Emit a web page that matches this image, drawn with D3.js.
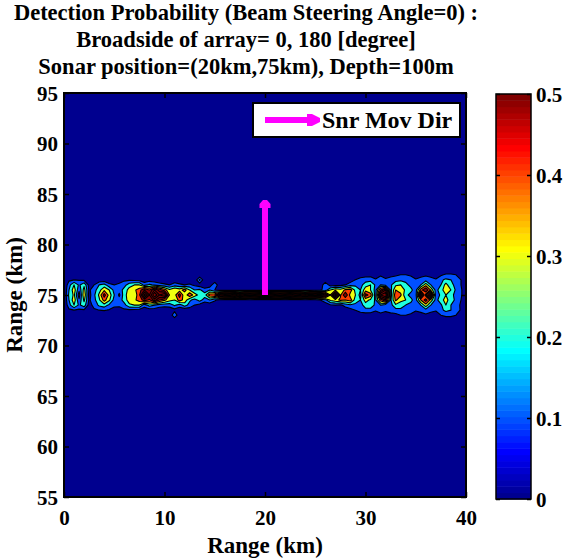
<!DOCTYPE html>
<html><head><meta charset="utf-8">
<script src="https://cdn.jsdelivr.net/npm/d3@7"></script>
<style>
body{margin:0;background:#fff}
text{font-family:"Liberation Serif","Times New Roman",serif;font-weight:bold;fill:#000}
</style>
</head><body>
<svg id="chart" width="566" height="560"></svg>
<script>
// ---------------- DATA ----------------
const titleLines = [
  "Detection Probability (Beam Steering Angle=0) :",
  "Broadside of array= 0, 180 [degree]",
  "Sonar position=(20km,75km), Depth=100m"
];
const xLabel = "Range (km)";
const yLabel = "Range (km)";
const legendLabel = "Snr Mov Dir";
const xTicks = [0, 10, 20, 30, 40];
const yTicks = [55, 60, 65, 70, 75, 80, 85, 90, 95];
const cbTicks = [0, 0.1, 0.2, 0.3, 0.4, 0.5];
const xDomain = [0, 40], yDomain = [55, 95], cDomain = [0, 0.5];
const contourLevels = [0.1, 0.2, 0.3, 0.4, 0.5, 0.6, 0.7, 0.8, 0.9];
const sonarPos = [20, 75];
const moveTip = [20, 84.4];

// detection-probability grid: columns every 0.5 km from 0 to 40 km (81 values per row)
const gridX0 = 0, gridDX = 0.5;
const gridRowsKm = [77.0, 76.5, 76.0, 75.5, 75.0, 74.5, 74.0, 73.5, 73.0];
const pd_770 = [0,0,0,0,0,0,0,0,0,0, 0,0,0,0,0,0,0,0,0,0, 0,0,0,0,0,0,0,0,0,0,
  0,0,0,0,0,0,0,0,0,0, 0,0,0,0,0,0,0,0,0,0, 0,0,0,0,0,0,0,0,0,.04,
  .06,.06,0,.08,0,.06,.08,.1,.1,.08, 0,.06,.08,.06,0,.08,.12,.12,.1,.04, 0];
const pd_765 = [0,.08,.1,.09,.08,.02,.02,.03,.03,.02, .02,.06,.08,.08,.07,.06,.04,.05,.04,.03,
  .02,.02,.03,.02,.02,.01,.02,.22,.02,0, 0,0,0,0,0,0,0,0,0,0, 0,0,0,0,0,0,0,0,0,0,
  0,0,0,0,0,0,.02,.04,.1,.14, .15,.16,.12,.16,.14,.15,.16,.18,.18,.16,
  .12,.14,.16,.14,.12,.18,.22,.2,.18,.1, 0];
const pd_760 = [0,.16,.3,.18,.28,.06,.1,.2,.24,.13, .1,.12,.16,.26,.3,.3,.16,.22,.18,.14,
  .12,.1,.15,.12,.1,.12,.08,.04,.02,.02, .2,0,0,0,0,0,0,0,0,0, 0,0,0,0,0,0,0,0,0,0,
  0,0,.2,.04,.06,.06,.1,.16,.18,.16, .26,.3,.18,.2,.16,.18,.28,.3,.22,.18,
  .14,.2,.36,.2,.14,.2,.34,.22,.18,.1, 0];
const pd_755 = [0,.2,.36,.12,.34,.08,.16,.26,.38,.3, .16,.14,.24,.34,.38,.45,.6,.5,.7,.55,
  .45,.32,.4,.35,.45,.3,.2,.22,.14,.2, .1,.04,.02,.03,.02,.04,.02,.03,.02,.02,
  .03,.02,.02,.04,.02,.03,.05,.02,.04,.03, .05,.08,.14,.3,.38,.34,.42,.45,.26,.2,
  .36,.3,.16,.5,.7,.16,.4,.36,.28,.22, .16,.45,.6,.38,.16,.26,.36,.3,.18,.12, 0];
const pd_750 = [0,.22,.32,.05,.38,.06,.18,.32,.55,.36, .2,.08,.26,.36,.32,.48,.85,.6,.9,.7,
  .8,.4,.35,.55,.32,.48,.35,.26,.25,.45, .5,.8,.9,.85,.95,.8,.9,.85,.9,.95,
  .9,.95,.9,.85,.9,.95,.85,.9,.8,.9, .85,.9,.7,.4,.75,.38,.6,.35,.3,.16,
  .55,.45,.14,.8,.9,.14,.48,.42,.22,.18, .14,.85,.35,.8,.14,.22,.3,.22,.18,.12, 0];
const pd_745 = [0,.2,.36,.12,.32,.08,.17,.28,.44,.32, .16,.14,.25,.35,.38,.44,.55,.48,.65,.5,
  .42,.34,.3,.45,.36,.22,.16,.24,.15,.2, .12,.05,.02,.02,.03,.02,.02,.04,.02,.02,
  .02,.03,.02,.02,.04,.02,.03,.02,.05,.03, .04,.1,.16,.32,.36,.42,.4,.45,.24,.2,
  .34,.28,.18,.45,.6,.18,.42,.32,.3,.22, .16,.4,.55,.36,.16,.26,.34,.24,.18,.1, 0];
const pd_740 = [0,.16,.3,.18,.26,.05,.14,.22,.26,.18, .13,.12,.16,.28,.3,.3,.14,.25,.2,.15,
  .14,.14,.22,.15,.25,.16,.1,.06,.02,.03, .02,0,0,0,0,0,0,0,0,0, 0,0,0,0,0,0,0,0,0,0,
  0,0,.04,.08,.1,.08,.14,.18,.18,.15, .26,.3,.16,.2,.14,.16,.28,.26,.2,.18,
  .14,.2,.36,.2,.14,.18,.3,.2,.16,.08, 0];
const pd_735 = [0,.08,.1,.08,.08,.02,.08,.1,.11,.09, .05,.06,.08,.08,.07,.06,.05,.04,.05,.03,
  .02,.04,.06,.03,.02,.04,.02,0,0,0, .03,0,0,0,0,0,0,0,0,0, 0,0,0,0,0,0,0,0,0,0,
  0,0,0,0,0,0,.03,.06,.1,.15, .16,.14,.12,.15,.14,.16,.16,.17,.18,.15,
  .12,.14,.16,.13,.12,.18,.22,.2,.18,.08, 0];
const pd_730 = [0,0,0,0,0,0,0,0,0,0, 0,0,0,0,0,0,0,0,0,0, 0,0,.2,0,0,0,0,0,0,0,
  0,0,0,0,0,0,0,0,0,0, 0,0,0,0,0,0,0,0,0,0, 0,0,0,0,0,0,0,0,0,.03,
  .05,.06,0,.06,0,.05,.07,.1,.1,.08, 0,.05,.08,.06,0,.1,.14,.14,.1,.04, 0];
const pdRows = [pd_770, pd_765, pd_760, pd_755, pd_750, pd_745, pd_740, pd_735, pd_730];

// ---------------- COLORMAP (MATLAB jet, 64) ----------------
function jet64() {
  const m = 64, n = 16, u = [];
  for (let k = 1; k <= n; k++) u.push(k / n);
  for (let k = 1; k < n; k++) u.push(1);
  for (let k = n; k >= 1; k--) u.push(k / n);
  const J = Array.from({length: m}, () => [0, 0, 0]);
  u.forEach((v, i) => {
    const g = 8 + i + 1, r = g + n, b = g - n;
    if (r <= m) J[r - 1][0] = v;
    if (g <= m) J[g - 1][1] = v;
    if (b >= 1) J[b - 1][2] = v;
  });
  return J.map(c => d3.rgb(c[0] * 255, c[1] * 255, c[2] * 255).formatHex());
}
const JET = jet64();
const colorOf = v => JET[Math.max(0, Math.min(63, Math.floor((v - cDomain[0]) / (cDomain[1] - cDomain[0]) * 64 + 1e-9)))];

// ---------------- LAYOUT ----------------
const svg = d3.select("#chart");
const P = {left: 64, right: 466, top: 93, bottom: 497};
const xS = d3.scaleLinear(xDomain, [P.left, P.right]);
const yS = d3.scaleLinear(yDomain, [P.bottom, P.top]);
const FONT = '"Liberation Serif","Times New Roman",serif';

// title
svg.append("g").selectAll("text").data(titleLines).join("text")
  .attr("x", 246).attr("y", (d, i) => 20 + i * 27)
  .attr("text-anchor", "middle").style("font-size", "22.5px").text(d => d);

// clip
svg.append("defs").append("clipPath").attr("id", "plotclip")
  .append("rect").attr("x", P.left).attr("y", P.top)
  .attr("width", P.right - P.left).attr("height", P.bottom - P.top);

// background (lowest level)
svg.append("rect").attr("x", P.left).attr("y", P.top)
  .attr("width", P.right - P.left).attr("height", P.bottom - P.top)
  .attr("fill", colorOf(0));

// filled contours (zero rows padded above and below so every ring closes)
const nx = pdRows[0].length;
pdRows.forEach((r, i) => { if (r.length !== nx) throw new Error("row " + i + " has " + r.length); });
const zeroRow = new Array(nx).fill(0);
const allRows = [zeroRow, ...pdRows, zeroRow];
const dyKm = gridRowsKm[0] - gridRowsKm[1];
const rowTopKm = gridRowsKm[0] + dyKm;
const ny = allRows.length;
const values = allRows.flat();
const contours = d3.contours().size([nx, ny]).thresholds(contourLevels)(values);
const proj = d3.geoTransform({
  point(x, y) {
    this.stream.point(xS(gridX0 + (x - 0.5) * gridDX), yS(rowTopKm - (y - 0.5) * dyKm));
  }
});
const path = d3.geoPath(proj);
svg.append("g").attr("clip-path", "url(#plotclip)")
  .selectAll("path").data(contours).join("path")
  .attr("d", path)
  .attr("fill", d => colorOf(d.value))
  .attr("stroke", "#000").attr("stroke-width", 1.1).attr("stroke-linejoin", "round");

// sonar movement arrow
svg.append("line")
  .attr("x1", xS(sonarPos[0])).attr("y1", yS(sonarPos[1]))
  .attr("x2", xS(moveTip[0])).attr("y2", yS(moveTip[1]) + 6)
  .attr("stroke", "#ff00ff").attr("stroke-width", 6);
{
  const tx = xS(moveTip[0]), ty = yS(moveTip[1]);
  svg.append("path")
    .attr("d", `M${tx - 5.5},${ty + 8} L${tx - 5.5},${ty + 4} L${tx - 2},${ty} L${tx + 2},${ty} L${tx + 5.5},${ty + 4} L${tx + 5.5},${ty + 8} Z`)
    .attr("fill", "#ff00ff");
}

// axes (ticks inward on all four sides)
function styleAxis(a) {
  a.select(".domain").remove();
  a.selectAll(".tick line").attr("stroke", "#000").attr("stroke-width", 1.5);
  a.selectAll("text").style("font-size", "21px").attr("fill", "#000")
    .style("font-family", FONT).style("font-weight", "bold");
}
const axB = svg.append("g").attr("transform", `translate(0,${P.bottom})`)
  .call(d3.axisBottom(xS).tickValues(xTicks).tickSize(-5).tickSizeOuter(0).tickPadding(13).tickFormat(d3.format("d")));
const axT = svg.append("g").attr("transform", `translate(0,${P.top})`)
  .call(d3.axisTop(xS).tickValues(xTicks).tickSize(-5).tickSizeOuter(0).tickFormat(""));
const axL = svg.append("g").attr("transform", `translate(${P.left},0)`)
  .call(d3.axisLeft(yS).tickValues(yTicks).tickSize(-5).tickSizeOuter(0).tickPadding(6).tickFormat(d3.format("d")));
const axR = svg.append("g").attr("transform", `translate(${P.right},0)`)
  .call(d3.axisRight(yS).tickValues(yTicks).tickSize(-5).tickSizeOuter(0).tickFormat(""));
[axB, axT, axL, axR].forEach(styleAxis);
axL.selectAll("text").attr("dy", "0.35em");
svg.append("rect").attr("x", P.left).attr("y", P.top)
  .attr("width", P.right - P.left).attr("height", P.bottom - P.top)
  .attr("fill", "none").attr("stroke", "#000").attr("stroke-width", 2);

// axis labels
svg.append("text").attr("x", (P.left + P.right) / 2).attr("y", 553)
  .attr("text-anchor", "middle").style("font-size", "23px").text(xLabel);
svg.append("text").attr("transform", `translate(22,${(P.top + P.bottom) / 2}) rotate(-90)`)
  .attr("text-anchor", "middle").style("font-size", "23px").text(yLabel);

// legend
const L = {x: 253, y: 103, w: 207, h: 34};
svg.append("rect").attr("x", L.x).attr("y", L.y).attr("width", L.w).attr("height", L.h)
  .attr("fill", "#fff").attr("stroke", "#000").attr("stroke-width", 2);
svg.append("line").attr("x1", L.x + 12).attr("y1", L.y + 17).attr("x2", L.x + 58).attr("y2", L.y + 17)
  .attr("stroke", "#ff00ff").attr("stroke-width", 6);
svg.append("path")
  .attr("d", `M${L.x + 54},${L.y + 11} L${L.x + 59},${L.y + 11} L${L.x + 67},${L.y + 15} L${L.x + 67},${L.y + 19} L${L.x + 59},${L.y + 23} L${L.x + 54},${L.y + 23} Z`)
  .attr("fill", "#ff00ff");
svg.append("text").attr("x", L.x + 69).attr("y", L.y + 25)
  .style("font-size", "24px").text(legendLabel);

// colorbar
const CB = {left: 496, right: 531, top: 94, bottom: 499};
const cS = d3.scaleLinear(cDomain, [CB.bottom, CB.top]);
const cbSteps = JET.map((color, i) => ({
  lo: cDomain[0] + (cDomain[1] - cDomain[0]) * i / JET.length,
  hi: cDomain[0] + (cDomain[1] - cDomain[0]) * (i + 1) / JET.length,
  color
}));
svg.append("g").selectAll("rect").data(cbSteps).join("rect")
  .attr("x", CB.left).attr("width", CB.right - CB.left)
  .attr("y", d => cS(d.hi)).attr("height", d => cS(d.lo) - cS(d.hi) + 0.5)
  .attr("fill", d => d.color);
const cbR = svg.append("g").attr("transform", `translate(${CB.right},0)`)
  .call(d3.axisRight(cS).tickValues(cbTicks).tickSize(-4).tickSizeOuter(0).tickPadding(5).tickFormat(d3.format("~g")));
const cbL = svg.append("g").attr("transform", `translate(${CB.left},0)`)
  .call(d3.axisLeft(cS).tickValues(cbTicks).tickSize(-4).tickSizeOuter(0).tickFormat(""));
[cbR, cbL].forEach(styleAxis);
cbR.selectAll("text").attr("dy", "0.35em");
svg.append("rect").attr("x", CB.left).attr("y", CB.top)
  .attr("width", CB.right - CB.left).attr("height", CB.bottom - CB.top)
  .attr("fill", "none").attr("stroke", "#000").attr("stroke-width", 1.5);
</script>
</body></html>
